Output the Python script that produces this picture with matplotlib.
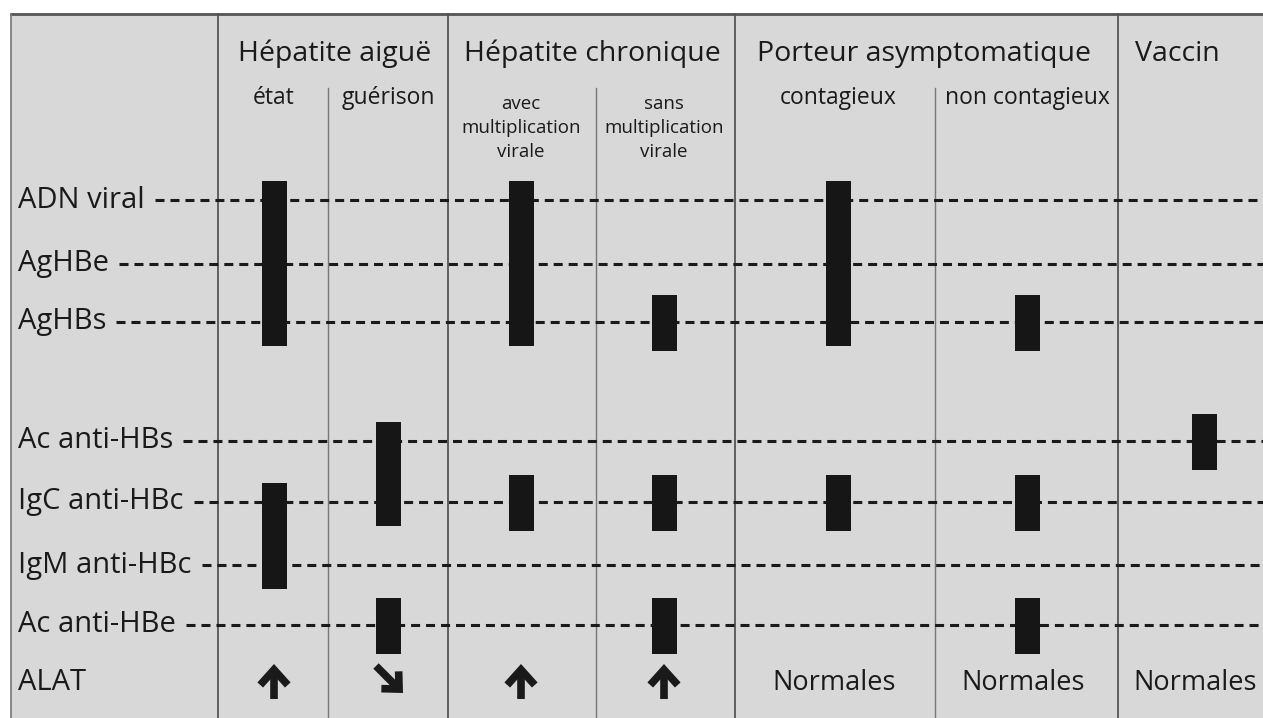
import matplotlib
matplotlib.use("Agg")
import matplotlib.pyplot as plt
from matplotlib.patches import Rectangle

plt.rcParams['font.family'] = ['Open Sans', 'DejaVu Sans']

# ---- data ----
row_labels = ["ADN viral", "AgHBe", "AgHBs", "Ac anti-HBs", "IgC anti-HBc",
              "IgM anti-HBc", "Ac anti-HBe", "ALAT"]
groups = ["Hépatite aiguë", "Hépatite chronique", "Porteur asymptomatique", "Vaccin"]
subcols = ["état", "guérison", "avec\nmultiplication\nvirale",
           "sans\nmultiplication\nvirale", "contagieux", "non contagieux", "Vaccin"]
# bars: (column index, first row index, last row index)
bars = [(0, 0, 2), (0, 4, 5),
        (1, 3, 4), (1, 6, 6),
        (2, 0, 2), (2, 4, 4),
        (3, 2, 2), (3, 4, 4), (3, 6, 6),
        (4, 0, 2), (4, 4, 4),
        (5, 2, 2), (5, 4, 4), (5, 6, 6),
        (6, 3, 3)]
alat = ["up", "downright", "up", "up", "Normales", "Normales", "Normales"]

# ---- layout (pixel coordinates) ----
W, H = 1263, 718
row_y = [200, 264, 322, 441, 502, 565, 625, 683]
col_x = [274, 388, 521, 664, 838, 1027, 1204]
main_lines = [218, 448, 735, 1118]
sub_lines = [328, 596, 935]
group_x = [335, 592, 924, 1177]
bar_w = 25

fig = plt.figure(figsize=(W / 100, H / 100), dpi=100, facecolor='white')
ax = fig.add_axes([0, 0, 1, 1])
ax.set_xlim(0, W)
ax.set_ylim(H, 0)
ax.axis('off')

bg = '#d8d8d8'
ax.add_patch(Rectangle((11, 14), W - 11, H - 14, facecolor=bg, edgecolor='none', zorder=0))
ax.plot([11, W], [14, 14], color='#555555', lw=2.0, zorder=1)
ax.plot([11, 11], [14, H], color='#777777', lw=1.2, zorder=1)
for x in main_lines:
    ax.plot([x, x], [14, H], color='#555555', lw=1.3, zorder=1)
for x in sub_lines:
    ax.plot([x, x], [88, H], color='#777777', lw=1.0, zorder=1)

ink = '#1a1a1a'
for g, gx in zip(groups, group_x):
    ax.text(gx, 54, g, ha='center', va='center', fontsize=20.5, color=ink)

for i, s in enumerate(subcols[:-1]):
    if "\n" in s:
        ax.text(col_x[i], 128, s, ha='center', va='center', fontsize=13.5,
                color=ink, linespacing=1.45)
    else:
        ax.text(col_x[i], 98, s, ha='center', va='center', fontsize=16.5, color=ink)

renderer = fig.canvas.get_renderer()
for lab, y in zip(row_labels, row_y):
    t = ax.text(18, y, lab, ha='left', va='center', fontsize=21, color=ink)
    if lab == "ALAT":
        continue
    bb = t.get_window_extent(renderer=renderer)
    x0 = bb.x1 + 10
    ax.plot([x0, W], [y, y], color=ink, lw=2.2, ls=(0, (2.95, 1.95)), zorder=2)

for c, r0, r1 in bars:
    if r0 == r1:
        top = row_y[r0] - 27
        bot = row_y[r0] + 29
    else:
        top = row_y[r0] - 19
        bot = row_y[r1] + 24
    ax.bar(col_x[c], bot - top, bottom=top, width=bar_w, color='#161616',
           edgecolor='none', zorder=3)

arrow_style = dict(arrowstyle='->,head_width=0.45,head_length=0.5', lw=5.5,
                   color=ink, shrinkA=0, shrinkB=0, mutation_scale=22,
                   capstyle='butt', joinstyle='miter')
diag_style = dict(arrow_style, arrowstyle='->,head_width=0.4,head_length=0.42')
for c, v in enumerate(alat):
    x = col_x[c]
    y = row_y[7]
    if v == "up":
        ax.annotate('', xy=(x, y - 19), xytext=(x, y + 16), arrowprops=arrow_style)
    elif v == "downright":
        ax.annotate('', xy=(x + 15, y + 10), xytext=(x - 12, y - 17),
                    arrowprops=diag_style)
    else:
        ax.text(x - 4 if c < 6 else x - 9, y, v, ha='center', va='center',
                fontsize=19.5, color=ink)

fig.savefig('out.png', dpi=100, facecolor='white')
